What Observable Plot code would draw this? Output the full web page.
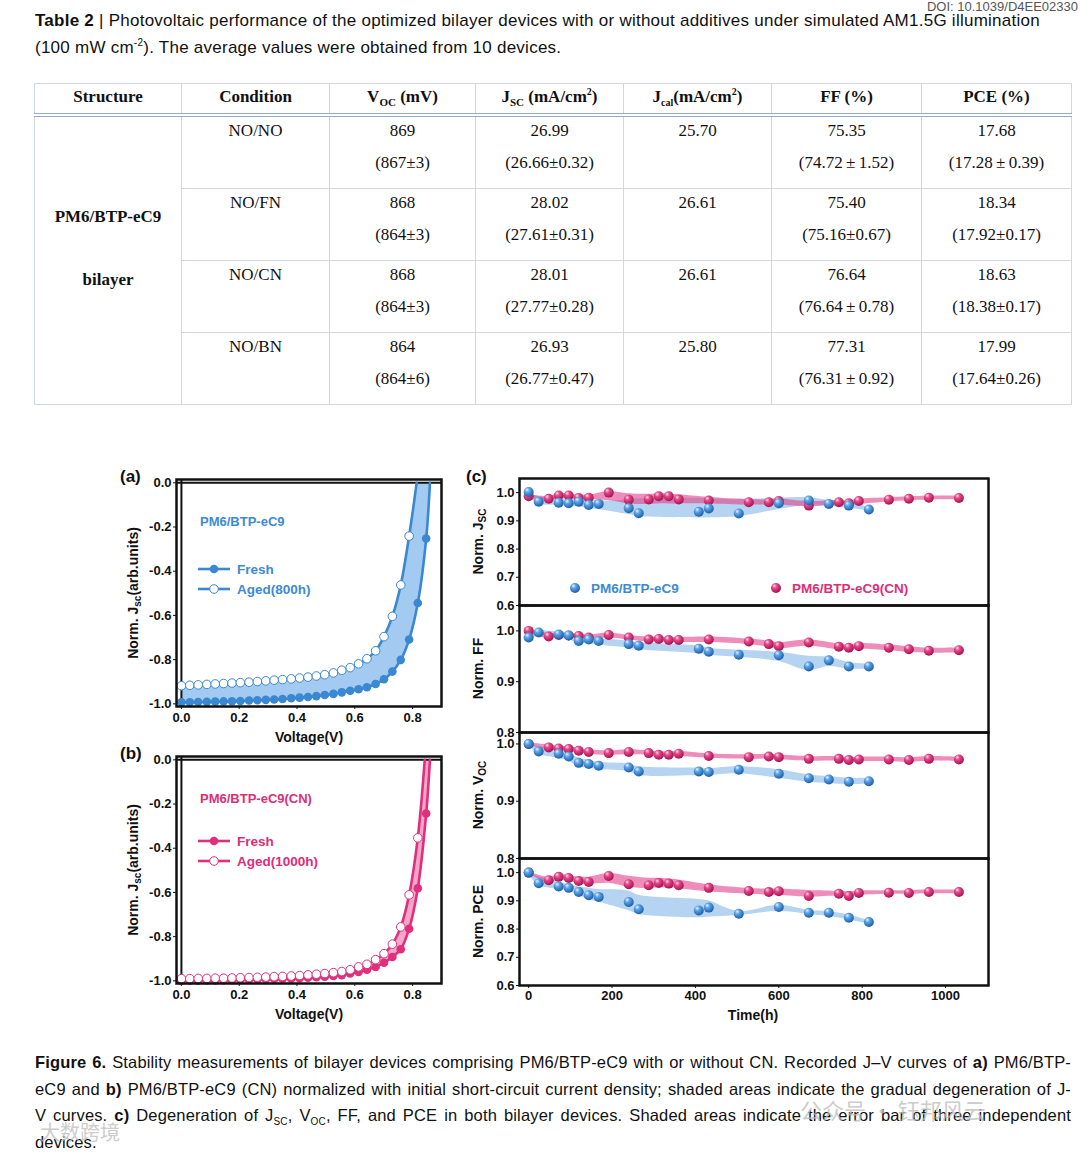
<!DOCTYPE html>
<html><head><meta charset="utf-8">
<script src="https://cdn.jsdelivr.net/npm/d3@7"></script>
<script src="https://cdn.jsdelivr.net/npm/@observablehq/plot@0.6"></script>
<style>
body{margin:0;background:#fff;}
#page{position:relative;width:1080px;height:1153px;overflow:hidden;font-family:"Liberation Sans",Arial,sans-serif;color:#111;}
.abs{position:absolute;}
svg{overflow:visible;}
sub,sup{line-height:0;}
#doi{position:absolute;right:2px;top:0px;font-size:13px;line-height:13px;color:#555;}
#tcap{position:absolute;left:35px;top:7px;width:1045px;font-size:17px;letter-spacing:0.25px;line-height:27px;white-space:nowrap;}
#tbl{position:absolute;left:34px;top:83px;width:1037px;border-collapse:collapse;table-layout:fixed;font-family:"Liberation Serif","Times New Roman",serif;font-size:17px;color:#111;}
#tbl th,#tbl td{border:1px solid #cbd7ea;text-align:center;vertical-align:top;padding:0;}
#tbl th{height:27px;font-weight:bold;line-height:22px;padding-top:2px;border-bottom:4px double #8eaad8;}
#tbl td{height:71px;line-height:32px;}
#tbl td.st{font-weight:bold;line-height:63px;padding-top:68px;height:auto;}
#fcap{position:absolute;left:35px;top:1049px;width:1036px;font-size:16.5px;letter-spacing:0.15px;line-height:26.5px;}
#fcap div{text-align:justify;text-align-last:justify;white-space:nowrap;height:26.5px;}
#fcap div.last{text-align-last:left;}
.wm{position:absolute;color:#bbb;font-family:"Noto Sans CJK SC",sans-serif;opacity:.75;line-height:1;}
</style></head><body>
<svg width="0" height="0" style="position:absolute">
<defs>
<radialGradient id="gBlue" cx="0.4" cy="0.35" r="0.65" fx="0.33" fy="0.27">
<stop offset="0" stop-color="#eaf5ff"/><stop offset="0.35" stop-color="#5ea6e8"/><stop offset="1" stop-color="#1c5ea6"/>
</radialGradient>
<radialGradient id="gPink" cx="0.4" cy="0.35" r="0.65" fx="0.33" fy="0.27">
<stop offset="0" stop-color="#ffe3ee"/><stop offset="0.35" stop-color="#e8498c"/><stop offset="1" stop-color="#a3134f"/>
</radialGradient>
</defs></svg>
<div id="page">
<div id="doi">DOI: 10.1039/D4EE02330</div>
<div id="tcap"><b>Table 2</b> | Photovoltaic performance of the optimized bilayer devices with or without additives under simulated AM1.5G illumination<br>(100 mW cm<sup style="font-size:10px">-2</sup>). The average values were obtained from 10 devices.</div>
<table id="tbl"></table>
<div id="pa" class="abs" style="left:110px;top:460px"></div>
<div id="pb" class="abs" style="left:110px;top:737px"></div>
<div id="c1" class="abs" style="left:460px;top:468px"></div>
<div id="c2" class="abs" style="left:460px;top:595px"></div>
<div id="c3" class="abs" style="left:460px;top:722px"></div>
<div id="c4" class="abs" style="left:460px;top:848px"></div>
<div id="fcap">
<div><b>Figure 6.</b> Stability measurements of bilayer devices comprising PM6/BTP-eC9 with or without CN. Recorded J–V curves of <b>a)</b> PM6/BTP-</div>
<div>eC9 and <b>b)</b> PM6/BTP-eC9 (CN) normalized with initial short-circuit current density; shaded areas indicate the gradual degeneration of J-</div>
<div>V curves. <b>c)</b> Degeneration of J<sub style="font-size:10px">SC</sub>, V<sub style="font-size:10px">OC</sub>, FF, and PCE in both bilayer devices. Shaded areas indicate the error bar of three independent</div>
<div class="last">devices.</div>
</div>
<div class="wm" style="left:800px;top:1098px;font-size:22px;">公众号 · 钰邦风云</div>
<div class="wm" style="left:40px;top:1122px;font-size:20px;">大数跨境</div>
</div>
<script>
// ---------------- Table data ----------------
const tblHeaders = ["Structure","Condition","V<sub style='font-size:11px'>OC</sub> (mV)","J<sub style='font-size:11px'>SC</sub> (mA/cm<sup style='font-size:10px'>2</sup>)","J<sub style='font-size:10px'>cal</sub>(mA/cm<sup style='font-size:10px'>2</sup>)","FF (%)","PCE (%)"];
const structureLines = ["PM6/BTP-eC9","bilayer"];
const conditions = ["NO/NO","NO/FN","NO/CN","NO/BN"];
const vocBest = ["869","868","868","864"];
const vocAvg = ["(867±3)","(864±3)","(864±3)","(864±6)"];
const jscBest = ["26.99","28.02","28.01","26.93"];
const jscAvg = ["(26.66±0.32)","(27.61±0.31)","(27.77±0.28)","(26.77±0.47)"];
const jcal = ["25.70","26.61","26.61","25.80"];
const ffBest = ["75.35","75.40","76.64","77.31"];
const ffAvg = ["(74.72\u2009±\u20091.52)","(75.16±0.67)","(76.64\u2009±\u20090.78)","(76.31\u2009±\u20090.92)"];
const pceBest = ["17.68","18.34","18.63","17.99"];
const pceAvg = ["(17.28\u2009±\u20090.39)","(17.92±0.17)","(18.38±0.17)","(17.64±0.26)"];

// ---------------- J-V data ----------------
const jvV = [0.000,0.029,0.058,0.088,0.117,0.146,0.175,0.204,0.234,0.263,0.292,0.321,0.350,0.380,0.409,0.438,0.467,0.496,0.526,0.555,0.584,0.613,0.642,0.672,0.701,0.730,0.759,0.788,0.818,0.847];
const aFresh = [-0.993,-0.993,-0.992,-0.991,-0.990,-0.989,-0.988,-0.987,-0.985,-0.984,-0.982,-0.980,-0.978,-0.975,-0.972,-0.969,-0.965,-0.960,-0.955,-0.948,-0.941,-0.934,-0.925,-0.910,-0.889,-0.854,-0.801,-0.709,-0.544,-0.252];
const aAged = [-0.918,-0.916,-0.914,-0.912,-0.910,-0.908,-0.906,-0.904,-0.902,-0.899,-0.896,-0.893,-0.890,-0.887,-0.883,-0.879,-0.874,-0.868,-0.860,-0.848,-0.836,-0.819,-0.796,-0.760,-0.696,-0.604,-0.462,-0.241];
const aVoc = [0.860, 0.814]; // fresh, aged (J = 0)
const bFresh = [-1.000,-0.999,-0.999,-0.998,-0.998,-0.997,-0.997,-0.996,-0.995,-0.994,-0.993,-0.992,-0.991,-0.990,-0.988,-0.986,-0.984,-0.981,-0.978,-0.974,-0.967,-0.960,-0.950,-0.937,-0.918,-0.892,-0.857,-0.764,-0.581,-0.243];
const bAged = [-0.990,-0.990,-0.989,-0.989,-0.988,-0.988,-0.987,-0.986,-0.985,-0.984,-0.983,-0.981,-0.980,-0.978,-0.976,-0.973,-0.970,-0.967,-0.963,-0.958,-0.950,-0.937,-0.925,-0.904,-0.877,-0.834,-0.756,-0.611,-0.353];
const bVoc = [0.860, 0.842];
const jvXTicks = [0,0.2,0.4,0.6,0.8];
const jvYTicks = [-1,-0.8,-0.6,-0.4,-0.2,0];

// ---------------- Stability data ----------------
const tBlue = [0,24,72,96,120,144,168,240,264,408,432,504,600,672,720,768,816];
const tPink = [0,48,72,96,120,144,192,240,288,312,336,360,432,528,576,600,672,744,768,792,864,912,960,1032];

const jscBlue   = [1.002,0.968,0.964,0.962,0.968,0.956,0.960,0.945,0.927,0.932,0.944,0.926,0.962,0.972,0.960,0.954,0.940];
const jscBlueLo = [0.990,0.960,0.955,0.952,0.950,0.945,0.940,0.922,0.915,0.910,0.910,0.915,0.940,0.955,0.952,0.945,0.935];
const jscBlueHi = [1.000,0.985,0.978,0.976,0.975,0.972,0.970,0.975,0.978,0.980,0.978,0.975,0.980,0.982,0.972,0.965,0.948];
const jscPink   = [0.987,0.978,0.990,0.990,0.981,0.982,1.000,0.975,0.976,0.987,0.987,0.976,0.972,0.966,0.966,0.970,0.954,0.966,0.962,0.970,0.975,0.978,0.982,0.981];
const jscPinkLo = [0.980,0.972,0.978,0.978,0.975,0.975,0.972,0.960,0.958,0.960,0.960,0.960,0.960,0.956,0.956,0.956,0.950,0.956,0.954,0.958,0.967,0.971,0.974,0.974];
const jscPinkHi = [0.993,0.986,0.996,0.996,0.991,0.991,1.003,0.996,0.994,0.997,0.995,0.992,0.983,0.976,0.974,0.977,0.968,0.972,0.970,0.977,0.982,0.985,0.988,0.988];

const ffBlue   = [0.987,0.997,0.993,0.991,0.980,0.983,0.980,0.974,0.971,0.965,0.959,0.953,0.952,0.930,0.942,0.930,0.930];
const ffBlueLo = [0.980,0.990,0.985,0.983,0.975,0.975,0.972,0.966,0.963,0.955,0.952,0.948,0.940,0.922,0.930,0.925,0.925];
const ffBlueHi = [0.995,1.000,0.998,0.996,0.990,0.988,0.985,0.980,0.977,0.970,0.966,0.962,0.958,0.950,0.948,0.938,0.935];
const ffPink   = [1.000,0.989,0.992,0.991,0.990,0.987,0.992,0.987,0.983,0.984,0.982,0.982,0.983,0.979,0.974,0.970,0.977,0.969,0.967,0.970,0.967,0.964,0.961,0.962];
const ffPinkLo = [0.994,0.985,0.987,0.986,0.985,0.982,0.986,0.982,0.978,0.979,0.977,0.977,0.977,0.973,0.968,0.965,0.970,0.963,0.962,0.964,0.961,0.958,0.956,0.957];
const ffPinkHi = [1.004,0.995,0.996,0.995,0.994,0.992,0.996,0.991,0.988,0.988,0.987,0.987,0.988,0.984,0.980,0.977,0.982,0.974,0.972,0.975,0.972,0.969,0.966,0.967];

const vocBlue   = [1.000,0.987,0.983,0.978,0.967,0.965,0.962,0.959,0.952,0.952,0.951,0.955,0.948,0.940,0.938,0.934,0.935];
const vocBlueLo = [0.997,0.982,0.975,0.970,0.960,0.958,0.955,0.952,0.945,0.945,0.945,0.948,0.940,0.933,0.931,0.929,0.930];
const vocBlueHi = [1.002,0.995,0.990,0.985,0.975,0.972,0.968,0.965,0.960,0.958,0.957,0.960,0.955,0.946,0.943,0.940,0.940];
const vocPink   = [1.000,0.994,0.992,0.991,0.988,0.986,0.984,0.986,0.984,0.981,0.981,0.983,0.979,0.977,0.978,0.977,0.974,0.974,0.972,0.973,0.973,0.972,0.974,0.973];
const vocPinkLo = [0.997,0.990,0.988,0.987,0.984,0.982,0.980,0.981,0.980,0.977,0.977,0.978,0.975,0.973,0.974,0.973,0.970,0.970,0.968,0.969,0.969,0.968,0.970,0.969];
const vocPinkHi = [1.002,0.998,0.996,0.995,0.992,0.990,0.988,0.990,0.988,0.986,0.986,0.987,0.983,0.981,0.982,0.981,0.978,0.978,0.976,0.977,0.977,0.976,0.978,0.977];

const pceBlue   = [1.000,0.962,0.951,0.946,0.931,0.920,0.914,0.896,0.870,0.866,0.876,0.854,0.878,0.858,0.858,0.840,0.825];
const pceBlueLo = [0.992,0.955,0.940,0.935,0.920,0.905,0.895,0.865,0.852,0.840,0.842,0.848,0.862,0.852,0.845,0.832,0.818];
const pceBlueHi = [1.000,0.985,0.965,0.958,0.950,0.945,0.940,0.935,0.920,0.905,0.900,0.862,0.884,0.866,0.862,0.850,0.830];
const pcePink   = [1.000,0.973,0.985,0.981,0.970,0.967,0.988,0.959,0.955,0.963,0.961,0.955,0.946,0.935,0.931,0.934,0.917,0.925,0.917,0.928,0.929,0.928,0.931,0.931];
const pcePinkLo = [0.995,0.965,0.972,0.970,0.960,0.958,0.962,0.948,0.943,0.946,0.946,0.943,0.932,0.923,0.920,0.920,0.913,0.917,0.914,0.919,0.923,0.923,0.925,0.925];
const pcePinkHi = [1.003,0.983,0.992,0.990,0.984,0.984,0.997,0.987,0.980,0.980,0.977,0.974,0.957,0.944,0.942,0.942,0.937,0.934,0.932,0.935,0.936,0.936,0.938,0.938];

const timeTicks = [0,200,400,600,800,1000];
const seriesNames = ["PM6/BTP-eC9","PM6/BTP-eC9(CN)"];

// ---------------- colors ----------------
const BLUE = "#3a87d2", BLUE_BAND = "#a3caf0", BLUE_TXT = "#3d8ad4";
const PINK = "#e0307c", PINK_BAND = "#f5a6c9", PINK_TXT = "#dc2e78";

// ---------------- Table ----------------
(function(){
  const tbl = document.getElementById("tbl");
  const widths = [147,148,146,148,148,150,150];
  let html = "<colgroup>" + widths.map(w=>`<col style="width:${w}px">`).join("") + "</colgroup>";
  html += "<tr>" + tblHeaders.map(h=>`<th>${h}</th>`).join("") + "</tr>";
  conditions.forEach((c,i)=>{
    html += "<tr>";
    if(i===0) html += `<td class="st" rowspan="4">${structureLines.join("<br>")}</td>`;
    const cell = (a,b)=>`<td><div style="margin-top:-2px">${a}${b?"<br>"+b:""}</div></td>`;
    html += cell(c,"") + cell(vocBest[i],vocAvg[i]) + cell(jscBest[i],jscAvg[i]) + cell(jcal[i],"") + cell(ffBest[i],ffAvg[i]) + cell(pceBest[i],pceAvg[i]);
    html += "</tr>";
  });
  tbl.innerHTML = html;
})();

const FONT = "'Liberation Sans', Arial, sans-serif";
function txt(svg, x, y, parts, o={}) {
  const t = svg.append("text").attr("x", x).attr("y", y)
    .attr("font-family", FONT).attr("font-weight", "bold")
    .attr("font-size", o.size || 14).attr("fill", o.fill || "#111")
    .attr("text-anchor", o.anchor || "start");
  if (o.rotate) t.attr("transform", `rotate(-90,${x},${y})`);
  for (const p of parts) {
    if (typeof p === "string") t.append("tspan").text(p);
    else t.append("tspan").attr("font-size", p.size).attr("dy", p.dy).text(p.t);
  }
  return t;
}

// ---------------- J-V panels ----------------
function jvPanel(el, fresh, aged, voc, line, band, o) {
  const fr = fresh.map((j,i)=>({v: jvV[i], j}));
  const ag = aged.map((j,i)=>({v: jvV[i], j}));
  const frLine = [...fr, {v: voc[0], j: 0}];
  const agLine = [...ag, {v: voc[1], j: 0}];
  const poly = [...frLine, ...agLine.slice().reverse()];
  const p = Plot.plot({
    width: 345, height: 290,
    marginLeft: 66, marginRight: 14, marginTop: o.mt, marginBottom: 290 - o.mt - 227,
    style: {fontFamily: FONT, fontSize: "13px", fontWeight: "bold", color: "#111", background: "transparent", overflow: "visible"},
    x: {domain: [-0.017, 0.9], ticks: jvXTicks, tickFormat: d => d.toFixed(1), tickSize: 3, tickPadding: 3, label: null},
    y: {domain: [-1.012, 0.015], ticks: jvYTicks, tickFormat: d => d.toFixed(1), tickSize: 3, tickPadding: 2, label: null},
    marks: [
      Plot.line(poly, {x: "v", y: "j", fill: band, stroke: "none", curve: "linear"}),
      Plot.ruleX([0], {stroke: "#111", strokeWidth: 2}),
      Plot.ruleY([0], {stroke: "#111", strokeWidth: 2}),
      Plot.line(frLine, {x: "v", y: "j", stroke: line, strokeWidth: 2.6, curve: "catmull-rom"}),
      Plot.line(agLine, {x: "v", y: "j", stroke: line, strokeWidth: 2.6, curve: "catmull-rom"}),
      Plot.dot(fr, {x: "v", y: "j", r: 4.3, fill: line, stroke: "none"}),
      Plot.dot(ag, {x: "v", y: "j", r: 4.3, fill: "white", stroke: line, strokeWidth: 1}),
      Plot.frame({stroke: "#111", strokeWidth: 2.5})
    ]
  });
  document.getElementById(el).appendChild(p);
  const svg = d3.select(p);
  txt(svg, 10, o.mt + 3, [o.letter], {size: 17});
  txt(svg, 28, o.mt + 114, ["Norm. J", {t: "sc", size: 10, dy: 3}, {t: "(arb.units)", size: 14, dy: -3}], {rotate: true, anchor: "middle", size: 14});
  txt(svg, 199, o.mt + 263, ["Voltage(V)"], {anchor: "middle", size: 14});
  txt(svg, 90, o.mt + 47, [o.title], {size: 13, fill: o.txt});
  // legend
  const ly1 = o.mt + o.leg, ly2 = ly1 + 20;
  svg.append("line").attr("x1", 88).attr("x2", 120).attr("y1", ly1).attr("y2", ly1).attr("stroke", line).attr("stroke-width", 2.6);
  svg.append("circle").attr("cx", 104).attr("cy", ly1).attr("r", 4.3).attr("fill", line);
  svg.append("line").attr("x1", 88).attr("x2", 120).attr("y1", ly2).attr("y2", ly2).attr("stroke", line).attr("stroke-width", 2.6);
  svg.append("circle").attr("cx", 104).attr("cy", ly2).attr("r", 4.3).attr("fill", "white").attr("stroke", line).attr("stroke-width", 1);
  txt(svg, 127, ly1 + 5, ["Fresh"], {size: 13.5, fill: o.txt});
  txt(svg, 127, ly2 + 5, [o.aged], {size: 13.5, fill: o.txt});
}
jvPanel("pa", aFresh, aAged, aVoc, BLUE, BLUE_BAND, {mt: 19, letter: "(a)", title: "PM6/BTP-eC9", aged: "Aged(800h)", txt: BLUE_TXT, leg: 90});
jvPanel("pb", bFresh, bAged, bVoc, PINK, PINK_BAND, {mt: 19, letter: "(b)", title: "PM6/BTP-eC9(CN)", aged: "Aged(1000h)", txt: PINK_TXT, leg: 85});

// ---------------- Stability panels ----------------
function cPanel(el, h, mb, domain, ticks, blue, pink, label, showX) {
  const bd = tBlue.map((t,i)=>({t, v: blue[0][i], lo: blue[1][i], hi: blue[2][i]}));
  const pd = tPink.map((t,i)=>({t, v: pink[0][i], lo: pink[1][i], hi: pink[2][i]}));
  const p = Plot.plot({
    width: 540, height: h,
    marginLeft: 59, marginRight: 12, marginTop: 10, marginBottom: mb,
    style: {fontFamily: FONT, fontSize: "13px", fontWeight: "bold", color: "#111", background: "transparent", overflow: "visible"},
    x: {domain: [-22, 1103], ticks: timeTicks, tickFormat: d => String(d), tickSize: 3, tickPadding: 2, label: null, axis: showX ? "bottom" : null},
    y: {domain, ticks, tickFormat: d => d.toFixed(1), tickSize: 3, tickPadding: 2, label: null},
    marks: [
      Plot.areaY(bd, {x: "t", y1: "lo", y2: "hi", fill: "#5a9fe0", fillOpacity: 0.45, curve: "catmull-rom"}),
      Plot.areaY(pd, {x: "t", y1: "lo", y2: "hi", fill: "#e3418a", fillOpacity: 0.6, curve: "catmull-rom"}),
      Plot.dot(pd, {x: "t", y: "v", r: 5, fill: "url(#gPink)", stroke: "none"}),
      Plot.dot(bd, {x: "t", y: "v", r: 5, fill: "url(#gBlue)", stroke: "none"}),
      Plot.frame({stroke: "#111", strokeWidth: 2.5})
    ]
  });
  document.getElementById(el).appendChild(p);
  const svg = d3.select(p);
  txt(svg, 23, 10 + (h - 10 - mb) / 2, label, {rotate: true, anchor: "middle", size: 14});
  return svg;
}
const s1 = cPanel("c1", 147, 10, [0.6, 1.05], [0.6,0.7,0.8,0.9,1.0], [jscBlue, jscBlueLo, jscBlueHi], [jscPink, jscPinkLo, jscPinkHi], ["Norm. J", {t: "SC", size: 10, dy: 3}], false);
cPanel("c2", 147, 10, [0.8, 1.05], [0.8,0.9,1.0], [ffBlue, ffBlueLo, ffBlueHi], [ffPink, ffPinkLo, ffPinkHi], ["Norm. FF"], false);
cPanel("c3", 146, 10, [0.8, 1.02], [0.8,0.9,1.0], [vocBlue, vocBlueLo, vocBlueHi], [vocPink, vocPinkLo, vocPinkHi], ["Norm. V", {t: "OC", size: 10, dy: 3}], false);
const s4 = cPanel("c4", 182, 45, [0.6, 1.05], [0.6,0.7,0.8,0.9,1.0], [pceBlue, pceBlueLo, pceBlueHi], [pcePink, pcePinkLo, pcePinkHi], ["Norm. PCE"], true);
txt(s4, 293, 172, ["Time(h)"], {anchor: "middle", size: 14});
txt(s1, 6, 14, ["(c)"], {size: 17});
// legend in Jsc panel
s1.append("circle").attr("cx", 115).attr("cy", 120).attr("r", 5).attr("fill", "url(#gBlue)");
txt(s1, 131, 125, [seriesNames[0]], {size: 13.5, fill: BLUE_TXT});
s1.append("circle").attr("cx", 316).attr("cy", 120).attr("r", 5).attr("fill", "url(#gPink)");
txt(s1, 332, 125, [seriesNames[1]], {size: 13.5, fill: PINK_TXT});
</script>
</body></html>
